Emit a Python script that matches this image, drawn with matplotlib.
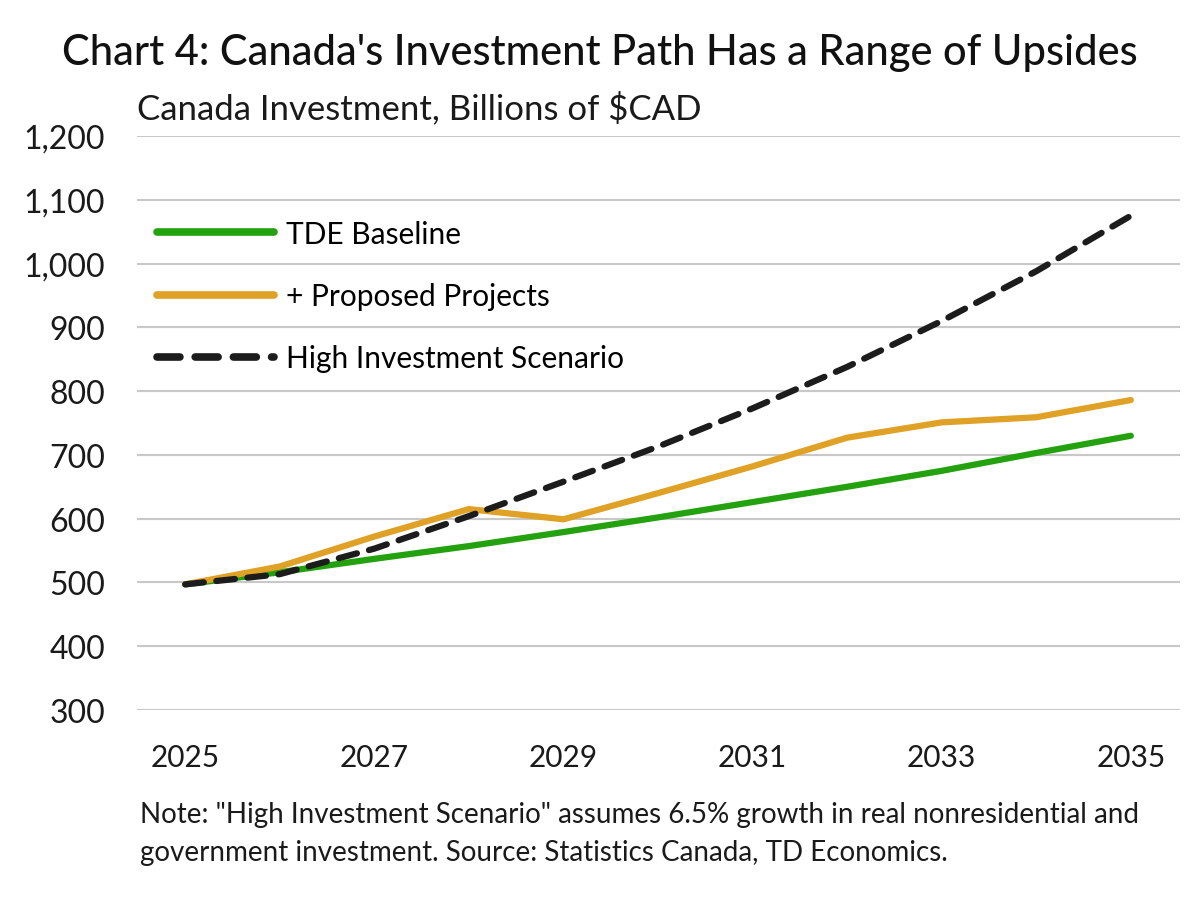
import matplotlib.pyplot as plt
from matplotlib.ticker import FuncFormatter

# values (billions of $CAD)
years = [2025, 2026, 2027, 2028, 2029, 2030, 2031, 2032, 2033, 2034, 2035]
baseline = [497, 516, 537, 557, 579, 602, 626, 650, 675, 703, 730]
proposed = [497, 525, 572, 615, 599, 640, 682, 727, 751, 759, 786]
high_inv = [497, 513, 553, 604, 658, 713, 773, 838, 910, 988, 1075]

x_ticks = [2025, 2027, 2029, 2031, 2033, 2035]
y_ticks = [300, 400, 500, 600, 700, 800, 900, 1000, 1100, 1200]

plt.rcParams['font.family'] = ['Lato', 'DejaVu Sans']

fig = plt.figure(figsize=(12, 9.03), dpi=100)
ax = fig.add_axes([137 / 1200, 1 - 711 / 903, (1180 - 137) / 1200, (711 - 137) / 903])

ax.plot(years, baseline, color='#24A10F', lw=4.5, solid_capstyle='round', label='TDE Baseline')
ax.plot(years, proposed, color='#DFA126', lw=4.5, solid_capstyle='round', label='+ Proposed Projects')
ax.plot(years, high_inv, color='#1c1c1c', lw=4.5, ls=(0, (3, 2)), dash_capstyle='round',
        label='High Investment Scenario')

ax.set_xlim(2024.49, 2035.52)
ax.set_ylim(300, 1200)
ax.set_xticks(x_ticks)
ax.set_yticks(y_ticks)
ax.yaxis.set_major_formatter(FuncFormatter(lambda v, p: f'{int(v):,}'))
ax.tick_params(length=0, colors='#1a1a1a')
ax.tick_params(axis='y', labelsize=23, pad=23)
ax.tick_params(axis='x', labelsize=21.5, pad=24)
ax.grid(axis='y', color='#c8c8c8', lw=1.5)
ax.set_axisbelow(True)
for s in ax.spines.values():
    s.set_visible(False)

# legend sits inside the plot, top left
leg = ax.legend(loc='upper left', bbox_to_anchor=(-0.009, 0.906), frameon=False, fontsize=21.5,
                handlelength=3.9, handletextpad=0.4, labelspacing=1.15, borderaxespad=0.6)
for line in leg.get_lines():
    line.set_linewidth(5.5)

fig.text(0.5, 1 - 53 / 903, "Chart 4: Canada's Investment Path Has a Range of Upsides",
         ha='center', va='center', fontsize=30, fontweight='medium', color='#111111')
fig.text(137 / 1200, 1 - 108 / 903, 'Canada Investment, Billions of $CAD',
         ha='left', va='center', fontsize=25, color='#1a1a1a')
fig.text(140 / 1200, 1 - 815 / 903,
         'Note: "High Investment Scenario" assumes 6.5% growth in real nonresidential and',
         ha='left', va='center', fontsize=20, color='#1a1a1a')
fig.text(140 / 1200, 1 - 853 / 903,
         'government investment. Source: Statistics Canada, TD Economics.',
         ha='left', va='center', fontsize=20, color='#1a1a1a')

fig.savefig('out.png', dpi=100, facecolor='white')
